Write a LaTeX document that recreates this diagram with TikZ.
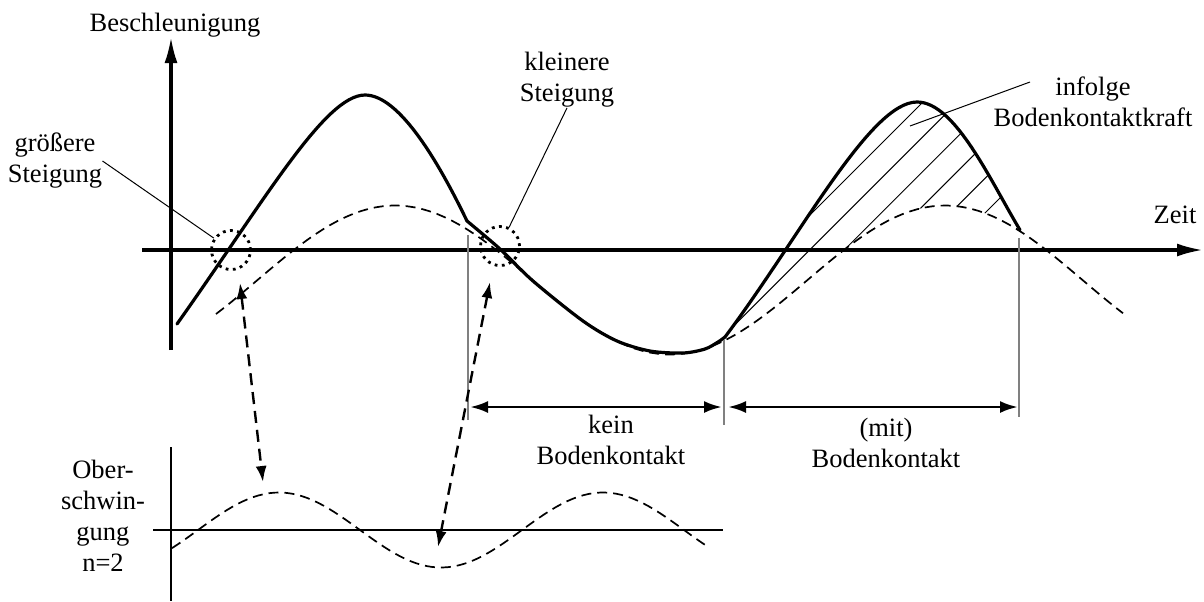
\documentclass[tikz,border=0pt]{standalone}
\usepackage{fontspec}
\setmainfont{Liberation Serif}
\usetikzlibrary{arrows.meta}

\begin{document}
\begin{tikzpicture}[
  x=0.5pt, y=-0.5pt,
  every node/.style={font=\fontsize{13.25}{15.5}\selectfont, inner sep=0pt},
  lbl/.style={align=center},
  achse/.style={line width=1.6pt, -{Latex[length=13pt,width=6.5pt]}},
  achse2/.style={line width=1pt},
  kurve/.style={line width=1.6pt, line join=round, line cap=round},
  grund/.style={line width=0.85pt, dash pattern=on 5pt off 3pt},
  ring/.style={circle, minimum size=19.5pt, draw, line width=1.4pt, dash pattern=on 1.4pt off 2.2pt},
  leader/.style={line width=0.5pt},
  hatch/.style={line width=0.5pt},
  grau/.style={draw=gray, line width=0.75pt},
  mass/.style={line width=1.4pt, {Latex[length=9pt,width=6pt]}-{Latex[length=9pt,width=6pt]}},
  bezug/.style={line width=1.2pt, dash pattern=on 6pt off 3.5pt, {Latex[length=8pt,width=5.5pt]}-{Latex[length=8pt,width=5.5pt]}},
  declare function={grundw(\t)=280-74.5*sin(deg(2*pi*(\t-257.5)/550));
                    oberw(\t)=530-37.5*sin(deg(2*pi*(\t-198)/324));}
]
  \useasboundingbox (0,0) rectangle (1204,601);

  % axes
  \draw[achse] (171,350) -- (171,37);
  \draw[achse] (142,250) -- (1203,250);
  \draw[achse2] (171,447) -- (171,601);
  \draw[achse2] (153,530) -- (723,530);

  % hatched area (ground contact force)
  \begin{scope}
    \clip (725,337) .. controls (800,237) and (870,102) .. (917,102)
      .. controls (955,102) and (990,180) .. (1020,230)
      -- plot[domain=1020:725, samples=40] (\x,{grundw(\x)}) -- cycle;
    \foreach \i in {0,...,5}
      \draw[hatch] ({1025+34.6*\i-400},400) -- ({1025+34.6*\i-50},50);
  \end{scope}

  % fundamental and harmonic
  \draw[grund] plot[domain=216:1123, samples=120] (\x,{grundw(\x)});
  \draw[grund] plot[domain=172:708, samples=100] (\x,{oberw(\x)});

  % measured acceleration
  \draw[kurve] (177,324) .. controls (265,200) and (325,95) .. (365,95)
    .. controls (400,95) and (440,165) .. (467,221);
  \draw[kurve] plot[smooth, tension=0.5] coordinates {(467,221) (500,249) (533,281)
    (583,321) (617,341) (650,351) (683,353) (705,349) (718,342) (725,337)};
  \draw[kurve] (725,337) .. controls (800,237) and (870,102) .. (917,102)
    .. controls (955,102) and (990,180) .. (1020,230);

  % labels
  \node[anchor=base] (yLbl) at (175,31) {Beschleunigung};
  \node[anchor=base] (xLbl) at (1175,223) {Zeit};
  \node[lbl] (grLbl) at (55,161) {größere\\Steigung};
  \node[lbl] (klLbl) at (567,80) {kleinere\\Steigung};
  \node[lbl] (infLbl) at (1093,102) {infolge\\Bodenkontaktkraft};
  \node[lbl] (keinLbl) at (611,440) {kein\\Bodenkontakt};
  \node[lbl] (mitLbl) at (886,443) {(mit)\\Bodenkontakt};
  \node[lbl] (obLbl) at (103,516) {Ober-\\schwin-\\gung\\n=2};

  % circles and leaders
  \node[ring] (rg) at (231,250) {};
  \node[ring] (rk) at (500,246) {};
  \draw[leader] (grLbl.east) -- (rg);
  \draw[leader] (klLbl.south) -- (rk);
  \coordinate (infA) at (1030,82);
  \coordinate (infB) at (910,126);
  \draw[leader] (infA) -- (infB);

  % contact phases
  \coordinate (g1o) at (468,235);  \coordinate (g1u) at (468,420);
  \coordinate (g2o) at (724,340);  \coordinate (g2u) at (724,425);
  \coordinate (g3o) at (1019,238); \coordinate (g3u) at (1019,417);
  \draw[grau] (g1o) -- (g1u);
  \draw[grau] (g2o) -- (g2u);
  \draw[grau] (g3o) -- (g3u);
  \coordinate (m1) at (470,407);
  \coordinate (m2) at (722,407);
  \coordinate (m3) at (728,407);
  \coordinate (m4) at (1018,407);
  \draw[mass] (m1) -- (m2);
  \draw[mass] (m3) -- (m4);

  % links to harmonic
  \coordinate (b1o) at (240,283);
  \coordinate (b1u) at (263,482);
  \coordinate (b2o) at (490,282);
  \coordinate (b2u) at (438,547);
  \draw[bezug] (b1o) -- (b1u);
  \draw[bezug] (b2o) -- (b2u);
\end{tikzpicture}
\end{document}
